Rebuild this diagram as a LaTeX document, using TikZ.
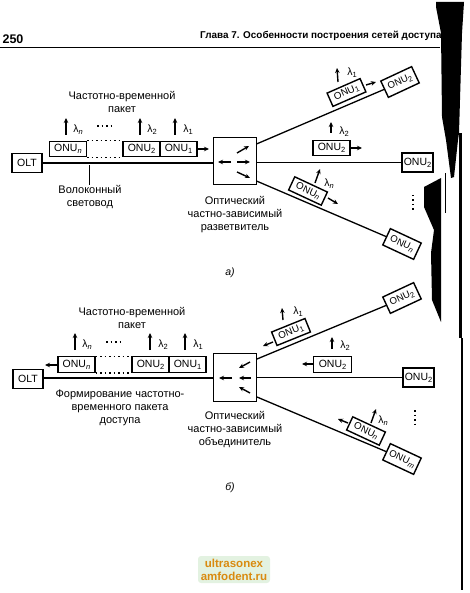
\documentclass[tikz,border=0pt]{standalone}
\usepackage{fontspec}
\setmainfont{Liberation Sans}
\usetikzlibrary{arrows.meta}
\definecolor{wmbg}{HTML}{E3F2E1}
\definecolor{wmtx}{HTML}{D98A10}
\newcommand\lsub[1]{\raisebox{-0.35ex}{\fontsize{7.5}{8}\selectfont #1}}
\newcommand\nn{\textit{n}}
\newcommand\mm{\textit{m}}
\tikzset{
  txt/.style={font=\fontsize{11}{13}\selectfont,align=center,inner sep=0pt},
  lam/.style={font=\fontsize{10.5}{11}\selectfont,inner sep=0pt},
  box/.style={draw,line width=1.4pt,font=\fontsize{10.5}{11}\selectfont,inner sep=0pt,minimum width=37pt,minimum height=15.5pt,fill=white},
  endbox/.style={box,minimum width=31pt,minimum height=19pt},
  tiltend/.style={endbox,minimum width=34pt,minimum height=18pt,font=\fontsize{9.6}{11}\selectfont},
  tiltbox/.style={box,minimum width=36pt,minimum height=14.5pt,font=\fontsize{9.8}{11}\selectfont},
  split/.style={draw,line width=1.4pt,inner sep=0pt,minimum width=43.5pt,minimum height=47.5pt},
  fiber/.style={line width=1.3pt},
  sig/.style={line width=1.4pt,-{Stealth[length=5pt,width=4.5pt]}},
  dots/.style={line width=1.1pt,dash pattern=on 1.5pt off 3pt},
  band/.style={fill=black,draw=none}
}
\begin{document}
\begin{tikzpicture}[x=1pt,y=-1pt]
\useasboundingbox (0,0) rectangle (469,593);
% page head
\node[inner sep=0pt,font=\fontsize{12.5}{13}\bfseries\selectfont] (page) at (13,39) {250};
\node[inner sep=0pt,anchor=west,font=\fontsize{9.9}{11}\bfseries\selectfont] (head) at (200,35.5) {Глава 7. Особенности построения сетей доступа};
\coordinate (ruleA) at (0,48); \coordinate (ruleB) at (440,48);
\draw[line width=1pt] (ruleA) -- (ruleB);

%% part a
\node[endbox,minimum width=30pt] (oltA) at (27,163) {OLT};
\node[split] (splA) at (235,161) {};
\draw[fiber] (oltA.east) -- (oltA.east -| splA.west);
\node[box] (aN) at (68,149) {ONU\lsub{\nn}};
\node[box] (a2) at (141.5,149) {ONU\lsub{2}};
\node[box] (a1) at (178.5,149) {ONU\lsub{1}};
\draw[dots] (aN.north east) -- (a2.north west);
\draw[dots] (aN.south east) -- (a2.south west);
\node[tiltend,rotate=25] (aT) at (400,82) {ONU\lsub{2}};
\node[endbox] (aM) at (417.5,162.5) {ONU\lsub{2}};
\node[tiltend,rotate=-25] (aB) at (402,244) {ONU\lsub{\nn}};
\coordinate (aS1) at (256.5,144); \coordinate (aS3) at (256.5,181);
\draw[fiber] (aS1) -- (aT.west);
\draw[fiber] (aM.west -| splA.east) -- (aM.west);
\draw[fiber] (aS3) -- (aB.west);
\node[tiltbox,rotate=23.7] (aU1) at (346.5,92.5) {ONU\lsub{1}};
\node[box] (aU2) at (331.5,148) {ONU\lsub{2}};
\node[tiltbox,rotate=-25] (aUN) at (308,191) {ONU\lsub{\nn}};

%% part b
\node[endbox,minimum width=30pt] (oltB) at (28,379) {OLT};
\node[split] (splB) at (235,377.5) {};
\draw[fiber] (oltB.east |- 0,378) -- (splB.west |- 0,378);
\node[box] (bN) at (76.5,364.5) {ONU\lsub{\nn}};
\node[box] (b2) at (150.5,364.5) {ONU\lsub{2}};
\node[box] (b1) at (187.5,364.5) {ONU\lsub{1}};
\draw[dots] (bN.north east) -- (b2.north west);
\draw[dots] (bN.south east) -- (b2.south west);
\node[tiltend,rotate=25] (bT) at (402,298) {ONU\lsub{2}};
\node[endbox] (bM) at (418.5,377.5) {ONU\lsub{2}};
\node[tiltend,rotate=-25] (bB) at (402,459) {ONU\lsub{\mm}};
\coordinate (bS1) at (257,359); \coordinate (bS3) at (257,397);
\draw[fiber] (bS1) -- (bT.west);
\draw[fiber] (bM.west -| splB.east) -- (bM.west);
\draw[fiber] (bS3) -- (bB.west);
\node[tiltbox,rotate=22] (bU1) at (291,332) {ONU\lsub{1}};
\node[box,minimum width=38pt] (bU2) at (332.5,364.5) {ONU\lsub{2}};
\node[tiltbox,rotate=-25] (bUN) at (366,431) {ONU\lsub{\nn}};

%% arrows
\foreach \n/\xa/\ya/\xb/\yb in {
 1/197/149/209/149, 2/66/135/66/118, 3/140/135/140/118, 4/175/135/175/118,
 5/231/162/218/162, 6/237/162/250/162, 7/237/153/249/146, 8/237/172/250/178,
 9/366/85/376/82, 10/338/82/337/68, 11/350/148/362/148, 12/331/133/331/122,
 13/328/198/338/204, 14/315/183/320/169,
 15/57/365/45/365, 16/75/350/75/333, 17/150/350/150/333, 18/185/350/185/333,
 19/232/378/219/378, 20/251/378/239/378, 21/250/362/239/368, 22/250/393/239/387,
 23/273/342/263/346, 24/283/320/282/308, 25/313/364/302/364, 26/332/349/332/337,
 27/348/423/338/419, 28/371/423/376/409}
 {\coordinate (s\n) at (\xa,\ya); \coordinate (e\n) at (\xb,\yb); \draw[sig] (s\n) -- (e\n);}

%% lambdas
\foreach \n/\x/\y/\t in {
 la/78/130/{λ\lsub{\nn}}, lb/152/130/{λ\lsub{2}}, lc/188/130/{λ\lsub{1}},
 ld/352/73/{λ\lsub{1}}, le/344/132/{λ\lsub{2}}, lf/329/184/{λ\lsub{\nn}},
 lg/87/345/{λ\lsub{\nn}}, lh/163/345/{λ\lsub{2}}, li/198/345/{λ\lsub{1}},
 lj/298/312/{λ\lsub{1}}, lk/345/346/{λ\lsub{2}}, ll/383/421/{λ\lsub{\nn}}}
 {\node[lam] (\n) at (\x,\y) {\t};}

%% dotted gaps
\coordinate (d1a) at (97,126); \coordinate (d1b) at (113,126); \draw[dots] (d1a) -- (d1b);
\coordinate (d2a) at (106,342); \coordinate (d2b) at (122,342); \draw[dots] (d2a) -- (d2b);
\coordinate (d3a) at (413,195); \coordinate (d3b) at (413,211); \draw[dots] (d3a) -- (d3b);
\coordinate (d4a) at (415,410); \coordinate (d4b) at (415,426); \draw[dots] (d4a) -- (d4b);

%% texts
\node[txt] (t1) at (122,101.5) {Частотно-временной\\пакет};
\node[txt] (t2) at (90,197) {Волоконный\\световод};
\coordinate (tk) at (89,165.5);
\draw[line width=1pt] (tk) -- (t2.north -| tk);
\node[txt] (t3) at (235,214.5) {Оптический\\частно-зависимый\\разветвитель};
\node[txt,font=\fontsize{10.5}{12}\itshape\selectfont] (t4) at (230,273) {а)};
\node[txt] (t5) at (132,317.5) {Частотно-временной\\пакет};
\node[txt] (t6) at (120,407.5) {Формирование частотно-\\временного пакета\\доступа};
\node[txt] (t7) at (235,430) {Оптический\\частно-зависимый\\объединитель};
\node[txt,font=\fontsize{10.5}{12}\itshape\selectfont] (t8) at (230,488) {б)};

%% scan marks at the right edge
\fill[band] (436,2) -- (464,2) -- (462,33) -- (459,133) -- (458,140) -- (454,177) -- (451,178) -- (446,140) -- (442,117) -- (441,33) -- (436,7) -- cycle;
\fill[band] (424,187) -- (441,178) -- (441,322) -- (432,300) -- (431,253) -- (434,230) -- (424,207) -- cycle;
\fill[band] (459,133) rectangle (462,338);
\fill[band] (461,338) rectangle (463,590);
\fill[band] (444.5,173) rectangle (446,213);

%% watermark
\node[fill=wmbg,rounded corners=3pt,minimum width=72pt,minimum height=27pt,inner sep=0pt,align=center,text=wmtx,font=\fontsize{11.5}{13}\bfseries\selectfont] (wm) at (234,569.5) {ultrasonex\\amfodent.ru};
\end{tikzpicture}
\end{document}
